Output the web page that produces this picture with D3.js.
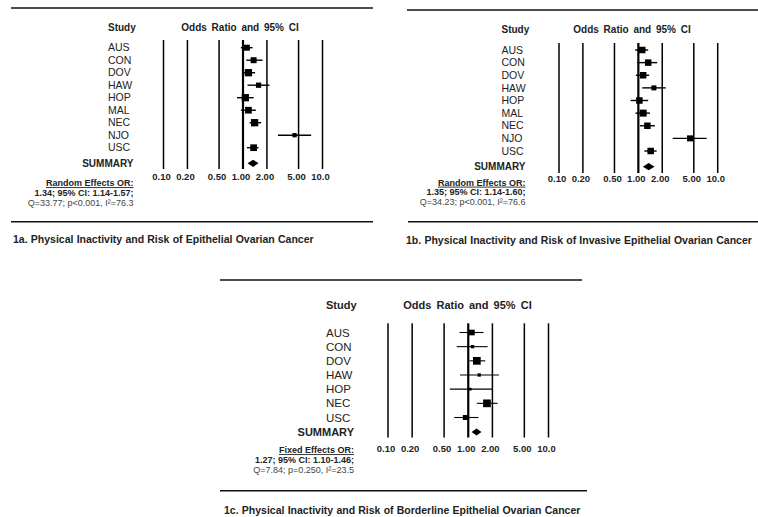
<!DOCTYPE html>
<html>
<head>
<meta charset="utf-8">
<script src="https://cdn.jsdelivr.net/npm/d3@7"></script>
<style>
  body { margin: 0; background: #fff; }
  svg { display: block; font-family: "Liberation Sans", Arial, sans-serif; }
</style>
</head>
<body>
<script>
// Tick values and their printed labels (shared by all three panels)
const tickValues = [0.1, 0.2, 0.5, 1, 2, 5, 10];
const tickLabels = ["0.10", "0.20", "0.50", "1.00", "2.00", "5.00", "10.0"];

// 1a. Epithelial ovarian cancer
const studiesA = ["AUS", "CON", "DOV", "HAW", "HOP", "MAL", "NEC", "NJO", "USC"];
const orA = [1.12, 1.36, 1.17, 1.57, 1.07, 1.17, 1.40, 4.45, 1.36];
const lowA = [0.94, 1.10, 0.99, 1.14, 0.84, 0.94, 1.21, 2.75, 1.12];
const highA = [1.32, 1.76, 1.42, 2.15, 1.36, 1.45, 1.69, 7.20, 1.57];
const weightA = [6, 6, 7.3, 5.3, 7.3, 6.7, 7.3, 4.3, 6.7];
const summaryA = [1.34, 1.14, 1.57];
const statsA = ["Random Effects OR:", "1.34; 95% CI: 1.14-1.57;", "Q=33.77; p<0.001, I²=76.3"];
const captionA = "1a. Physical Inactivity and Risk of Epithelial Ovarian Cancer";

// 1b. Invasive epithelial ovarian cancer
const studiesB = ["AUS", "CON", "DOV", "HAW", "HOP", "MAL", "NEC", "NJO", "USC"];
const orB = [1.12, 1.33, 1.15, 1.57, 1.03, 1.15, 1.30, 4.48, 1.43];
const lowB = [0.91, 0.97, 0.93, 1.12, 0.80, 0.92, 1.05, 2.71, 1.19];
const highB = [1.33, 1.73, 1.37, 2.21, 1.33, 1.40, 1.62, 7.26, 1.70];
const weightB = [6.5, 6.5, 6.5, 5, 6.5, 7, 6.5, 6, 6.5];
const summaryB = [1.35, 1.14, 1.60];
const statsB = ["Random Effects OR:", "1.35; 95% CI: 1.14-1.60;", "Q=34.23; p<0.001, I²=76.6"];
const captionB = "1b. Physical Inactivity and Risk of Invasive Epithelial Ovarian Cancer";

// 1c. Borderline epithelial ovarian cancer
const studiesC = ["AUS", "CON", "DOV", "HAW", "HOP", "NEC", "USC"];
const orC = [1.11, 1.13, 1.28, 1.37, 1.06, 1.71, 0.92];
const lowC = [0.78, 0.72, 1.04, 0.79, 0.59, 1.28, 0.67];
const highC = [1.55, 1.74, 1.63, 2.41, 2.00, 2.32, 1.34];
const weightC = [5.7, 3.3, 7.7, 3.3, 2.7, 7.7, 5];
const summaryC = [1.27, 1.10, 1.46];
const statsC = ["Fixed Effects OR:", "1.27; 95% CI: 1.10-1.46;", "Q=7.84; p=0.250, I²=23.5"];
const captionC = "1c. Physical Inactivity and Risk of Borderline Epithelial Ovarian Cancer";

const width = 758;
const height = 517;

const svg = d3.select("body")
  .append("svg")
  .attr("width", width)
  .attr("height", height)
  .attr("viewBox", [0, 0, width, height]);

function forest(data, lay) {
  const g = svg.append("g");

  // log x scale for odds ratios
  const x = d3.scaleLog()
    .domain([0.1, 10])
    .range([lay.x0, lay.x1]);

  // study rows
  const y = d3.scalePoint()
    .domain(data.studies)
    .range([lay.rowTop, lay.rowBottom]);

  // rules above and below the panel
  g.append("line")
    .attr("x1", lay.ruleTop[0]).attr("x2", lay.ruleTop[1])
    .attr("y1", lay.ruleTop[2]).attr("y2", lay.ruleTop[2])
    .attr("stroke", "#111").attr("stroke-width", 1.6);
  g.append("line")
    .attr("x1", lay.ruleBottom[0]).attr("x2", lay.ruleBottom[1])
    .attr("y1", lay.ruleBottom[2]).attr("y2", lay.ruleBottom[2])
    .attr("stroke", "#111").attr("stroke-width", 1.6);

  // headers
  g.append("text")
    .attr("x", lay.labelX)
    .attr("y", lay.headerY)
    .attr("dy", "0.35em")
    .attr("font-weight", "bold")
    .attr("font-size", lay.headSize)
    .attr("fill", "#222")
    .text("Study");
  g.append("text")
    .attr("x", lay.titleX)
    .attr("y", lay.headerY)
    .attr("dy", "0.35em")
    .attr("text-anchor", "middle")
    .attr("font-weight", "bold")
    .attr("font-size", lay.headSize)
    .attr("fill", "#222")
    .attr("word-spacing", 2)
    .text("Odds Ratio and 95% CI");

  // vertical grid lines at each tick
  g.append("g")
    .selectAll("line")
    .data(tickValues)
    .join("line")
    .attr("x1", d => x(d)).attr("x2", d => x(d))
    .attr("y1", lay.gridTop).attr("y2", lay.gridBottom)
    .attr("stroke", "#000")
    .attr("stroke-width", d => d === 1 ? 2.2 : 1.5);

  // tick labels
  g.append("g")
    .selectAll("text")
    .data(tickValues)
    .join("text")
    .attr("x", d => x(d) - 2)
    .attr("y", lay.tickY)
    .attr("dy", "0.35em")
    .attr("text-anchor", "middle")
    .attr("font-weight", "bold")
    .attr("font-size", 9.5)
    .attr("fill", "#222")
    .text((d, i) => tickLabels[i]);

  // study labels
  g.append("g")
    .selectAll("text")
    .data(data.studies)
    .join("text")
    .attr("x", lay.labelX)
    .attr("y", d => y(d))
    .attr("dy", "0.35em")
    .attr("font-size", lay.labelSize)
    .attr("fill", "#222")
    .text(d => d);

  // confidence interval whiskers
  g.append("g")
    .selectAll("line")
    .data(data.studies)
    .join("line")
    .attr("x1", (d, i) => x(data.low[i]))
    .attr("x2", (d, i) => x(data.high[i]))
    .attr("y1", d => y(d)).attr("y2", d => y(d))
    .attr("stroke", "#000")
    .attr("stroke-width", lay.whisker);

  // point estimates as squares sized by weight
  g.append("g")
    .selectAll("rect")
    .data(data.studies)
    .join("rect")
    .attr("x", (d, i) => x(data.or[i]) - data.weight[i] / 2)
    .attr("y", (d, i) => y(d) - data.weight[i] / 2)
    .attr("width", (d, i) => data.weight[i])
    .attr("height", (d, i) => data.weight[i])
    .attr("fill", "#000");

  // summary row
  g.append("text")
    .attr("x", lay.summaryRight)
    .attr("y", lay.summaryY)
    .attr("dy", "0.35em")
    .attr("text-anchor", "end")
    .attr("font-weight", "bold")
    .attr("font-size", lay.headSize)
    .attr("fill", "#222")
    .text("SUMMARY");

  const [est, lo, hi] = data.summary;
  g.append("path")
    .attr("d", `M${x(lo)},${lay.summaryY}L${x(est)},${lay.summaryY - 3.6}L${x(hi)},${lay.summaryY}L${x(est)},${lay.summaryY + 3.6}Z`)
    .attr("fill", "#000");

  // pooled estimate text
  g.append("g")
    .selectAll("text")
    .data(data.stats)
    .join("text")
    .attr("x", lay.summaryRight)
    .attr("y", (d, i) => lay.statsY + i * 9.8)
    .attr("dy", "0.35em")
    .attr("text-anchor", "end")
    .attr("font-size", 9)
    .attr("font-weight", (d, i) => i < 2 ? "bold" : "normal")
    .attr("text-decoration", (d, i) => i === 0 ? "underline" : null)
    .attr("fill", (d, i) => i < 2 ? "#222" : "#444")
    .text(d => d);

  // caption
  g.append("text")
    .attr("x", lay.captionX)
    .attr("y", lay.captionY)
    .attr("dy", "0.35em")
    .attr("font-weight", "bold")
    .attr("font-size", 10.5)
    .attr("word-spacing", 0.3)
    .attr("fill", "#222")
    .text(data.caption);
}

forest(
  { studies: studiesA, or: orA, low: lowA, high: highA, weight: weightA, summary: summaryA, stats: statsA, caption: captionA },
  { x0: 163.5, x1: 322.5, rowTop: 47.7, rowBottom: 147.7, summaryY: 163.3,
    gridTop: 40, gridBottom: 169, tickY: 177, labelX: 108, titleX: 240, headerY: 27,
    summaryRight: 133.5, statsY: 183, headSize: 10, labelSize: 10.5, whisker: 1.4,
    ruleTop: [11, 373, 8], ruleBottom: [11, 373, 221.7], captionX: 13, captionY: 239 }
);

forest(
  { studies: studiesB, or: orB, low: lowB, high: highB, weight: weightB, summary: summaryB, stats: statsB, caption: captionB },
  { x0: 559, x1: 717.7, rowTop: 50, rowBottom: 151, summaryY: 166.7,
    gridTop: 43, gridBottom: 173, tickY: 178.3, labelX: 501.5, titleX: 632, headerY: 29.3,
    summaryRight: 525.5, statsY: 182.5, headSize: 10, labelSize: 10.5, whisker: 1.4,
    ruleTop: [407, 758, 10], ruleBottom: [408, 758, 221.7], captionX: 406, captionY: 240 }
);

forest(
  { studies: studiesC, or: orC, low: lowC, high: highC, weight: weightC, summary: summaryC, stats: statsC, caption: captionC },
  { x0: 388, x1: 548.5, rowTop: 332.5, rowBottom: 417.5, summaryY: 432,
    gridTop: 323.3, gridBottom: 437.5, tickY: 449, labelX: 326, titleX: 467.5, headerY: 305,
    summaryRight: 354, statsY: 450, headSize: 11, labelSize: 11.5, whisker: 1.1,
    ruleTop: [220, 582, 280], ruleBottom: [220, 587, 490.7], captionX: 224, captionY: 510 }
);
</script>
</body>
</html>
